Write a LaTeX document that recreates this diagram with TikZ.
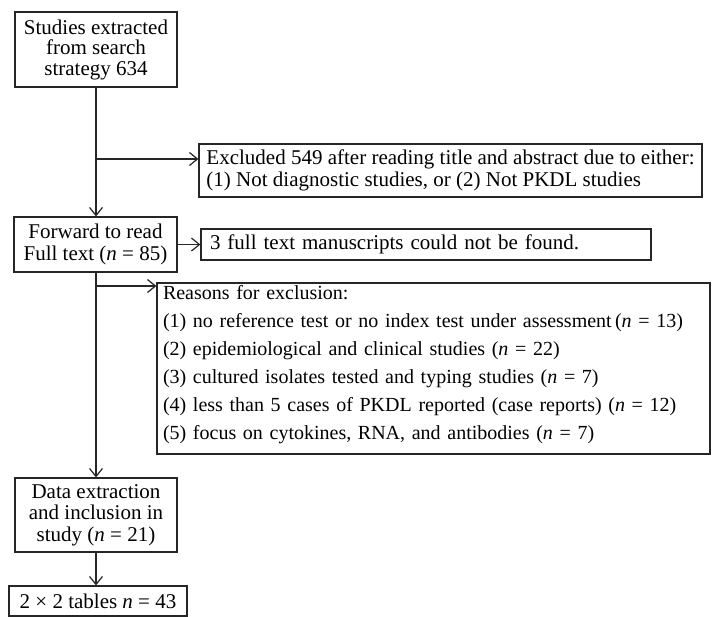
\documentclass[tikz,border=0pt]{standalone}
\usepackage{fontspec}
\setmainfont{Liberation Serif}
\usetikzlibrary{arrows.meta}

\begin{document}
\begin{tikzpicture}[x=1pt,y=-1pt]
        \useasboundingbox (0,0) rectangle (712,616);
        \begin{scope}[every node/.style={draw=black!85, line width=1.2pt, inner xsep=6pt, inner ysep=2pt, font=\fontsize{21}{21.5}\selectfont}]
                \node [minimum width=162pt, minimum height=75pt, align=center, font=\fontsize{21}{20.5}\selectfont] (studies) at (96,49.5) {Studies extracted\\from search\\strategy 634};
                \node [minimum width=503pt, minimum height=53pt, align=left] (excluded) at (450.5,170.5) {Excluded 549 after reading title and abstract due to either:\\(1) Not diagnostic studies, or (2) Not PKDL studies};
                \node [minimum width=163pt, minimum height=55pt, align=center] (forward) at (95.5,244.5) {Forward to read\\Full text (\textit{n} = 85)};
                \node [text width=432pt, inner xsep=9pt, minimum height=31pt, align=left] (notfound) at (426,244.5) {3 full text manuscripts could not be found.};
                \node [text width=541pt, inner xsep=6pt, minimum height=171pt, align=left, font=\fontsize{20}{28}\selectfont] (reasons) at (433.5,368.5) {Reasons for exclusion:\\
                        \mbox{(1) no reference test or no index test under assessment\,(\textit{n} = 13)}\\
                        (2) epidemiological and clinical studies (\textit{n} = 22)\\
                        (3) cultured isolates tested and typing studies (\textit{n} = 7)\\
                        \mbox{(4) less than 5 cases of PKDL reported (case reports) (\textit{n} = 12)}\\
                        (5) focus on cytokines, RNA, and antibodies (\textit{n} = 7)\rule[-12pt]{0pt}{12pt}};
                \node [minimum width=162pt, minimum height=74pt, align=center] (extraction) at (96,515) {Data extraction\\and inclusion in\\study (\textit{n} = 21)};
                \node [minimum width=178pt, minimum height=30pt] (tables) at (98,601) {2 × 2 tables \textit{n} = 43};
        \end{scope}

        \coordinate (exclfork) at (96,159);
        \coordinate (reasonsfork) at (96,286);

        \begin{scope}[every path/.style={draw=black!85, line width=1.2pt, -{Straight Barb[length=8pt,width=13pt]}}]
                \draw (studies.south) -- (studies.south |- forward.north);
                \draw (exclfork) -- (exclfork -| excluded.west);
                \draw (forward.east) -- (notfound.west);
                \draw (forward.south -| studies.south) -- (studies.south |- extraction.north);
                \draw (reasonsfork) -- (reasonsfork -| reasons.west);
                \draw (extraction.south) -- (extraction.south |- tables.north);
        \end{scope}
\end{tikzpicture}
\end{document}
